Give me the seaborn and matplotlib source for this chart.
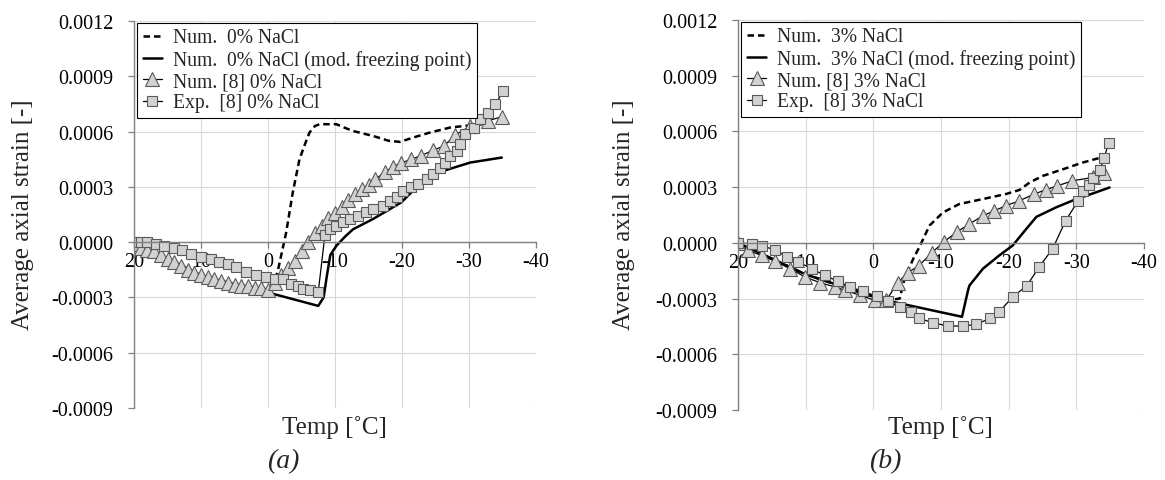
import matplotlib
matplotlib.use("Agg")
import matplotlib.pyplot as plt
import seaborn as sns
import pandas as pd
from matplotlib.ticker import FuncFormatter

# ---------------- data: panel (a) 0% NaCl ----------------
a_dash_T = [20, 15, 10, 5, 0, -0.8, -1.5, -2.7, -3.7, -4.7, -5.5, -6.2, -7.0, -7.7, -10.2, -11.5,
            -12.7, -15.7, -18.0, -19.7, -21.7, -24.2, -27.2, -30.2, -35.0]
a_dash_s = [0.0, -0.00009, -0.00018, -0.00023, -0.00026, -0.00024, -0.00015, 0.00005, 0.00027,
            0.00045, 0.00053, 0.000595, 0.00063, 0.00064, 0.00064, 0.00062, 0.000603, 0.000576,
            0.00055, 0.000544, 0.000568, 0.000595, 0.000622, 0.000634, 0.00065]

a_solid_T = [20, 15, 10, 5, 0, -0.7, -7.5, -8.3, -8.8, -9.3, -10.2, -11.5, -12.7, -15.7, -19.9,
             -21.4, -25.4, -30.2, -34.9]
a_solid_s = [0.0, -0.00009, -0.00018, -0.00023, -0.00026, -0.00028, -0.000346, -0.00030, -0.00018,
             -0.00007, -0.00002, 0.00003, 0.00007, 0.000126, 0.000216, 0.00027, 0.000378, 0.000432,
             0.000459]

a_tri_T = [20, 19, 18, 17, 16, 15, 14, 13, 12, 11, 10, 9, 8, 7, 6, 5, 4, 3, 2, 1, 0,
           -1, -2, -3, -4, -5, -6, -7, -8, -9, -10, -11, -12, -13, -14, -15, -16,
           -17.4, -18.7, -19.9, -21.4, -22.9, -24.7, -26.2, -27.9, -30.2, -32.9, -34.9]
a_tri_s = [-0.00001, -0.00003, -0.00004, -0.00005, -0.00007, -0.00009, -0.00011, -0.00013,
           -0.00015, -0.00017, -0.00018, -0.00019, -0.00020, -0.00021, -0.00022, -0.00023,
           -0.00024, -0.00024, -0.00025, -0.00025, -0.00026,
           -0.00022, -0.00018, -0.00014, -0.00010, -0.00005, 0.00000, 0.00005, 0.00009, 0.00013,
           0.00016, 0.00019, 0.00023, 0.00026, 0.00029, 0.00031, 0.00034,
           0.00038, 0.00041, 0.00043, 0.00045, 0.00047, 0.00050, 0.00052, 0.00058, 0.00063,
           0.00066, 0.00068]

a_sq_T = [20, 19, 18, 16.7, 15.5, 14, 12.8, 11.5, 10, 8.5, 7.3, 6, 4.8, 3.3, 1.8, 0.3, -1, -2.2,
          -3.5, -4.5, -5.2, -6.2, -7.5, -8.5, -9.2, -10.2, -11.2, -12.2, -13.4, -14.7, -15.7,
          -17.2, -18.2, -19.2, -20.2, -21.4, -22.4, -23.7, -24.7, -25.7, -26.4, -27.2, -28.2,
          -28.7, -29.4, -30.7, -31.7, -32.9, -33.9, -35.1]
a_sq_s = [0.0, 0.0, 0.0, -0.00001, -0.00002, -0.00003, -0.000045, -0.000063, -0.00008, -0.00009,
          -0.000108, -0.000117, -0.000135, -0.000162, -0.00018, -0.00019, -0.000198, -0.000198,
          -0.000225, -0.000238, -0.000252, -0.000262, -0.00027, 0.00004, 0.000072, 0.00009,
          0.000108, 0.000126, 0.000144, 0.000162, 0.00018, 0.000198, 0.000225, 0.000243,
          0.000279, 0.000297, 0.000315, 0.000342, 0.000369, 0.000405, 0.000432, 0.000468,
          0.000495, 0.000531, 0.000585, 0.000621, 0.000666, 0.000703, 0.000747, 0.000819]

# ---------------- data: panel (b) 3% NaCl ----------------
b_dash_T = [20, 10, 0, -1.9, -3.9, -4.6, -5.9, -6.8, -8.3, -10.3, -12.7, -16.2, -19.6, -21.6,
            -23.1, -25.0, -28.0, -30.9, -33.9, -34.9]
b_dash_s = [0.0, -0.00017, -0.00029, -0.00031, -0.00030, -0.000193, -0.000086, -0.000023,
            0.000093, 0.000164, 0.000209, 0.000236, 0.000263, 0.000285, 0.000325, 0.00036,
            0.000396, 0.000432, 0.000462, 0.00048]

b_solid_T = [20, 10, 0, -1.9, -13.1, -14.0, -14.2, -16.2, -18.6, -20.6, -22.6, -24.1, -27.0,
             -29.4, -32.2, -34.9]
b_solid_s = [0.0, -0.00017, -0.00029, -0.00031, -0.000398, -0.000255, -0.00023, -0.000139,
             -0.000068, -0.000014, 0.000075, 0.00014, 0.000191, 0.000227, 0.000263, 0.000298]

b_tri_T = [20, 18.5, 16.5, 14.5, 12.3, 10.1, 7.9, 5.7, 4.2, 2.0, -0.2, -1.9, -3.6, -5.1, -6.7,
           -8.6, -10.4, -12.3, -14.2, -16.2, -17.9, -19.6, -21.6, -23.8, -25.5, -27.2, -29.4,
           -32.4, -34.1]
b_tri_s = [0.0, -0.000041, -0.000068, -0.0001, -0.000139, -0.000184, -0.000214, -0.000237,
           -0.000255, -0.000282, -0.000309, -0.000309, -0.000215, -0.00016, -0.000124,
           -0.000055, 0.000005, 0.000057, 0.000102, 0.000146, 0.000173, 0.0002, 0.000227,
           0.000263, 0.000286, 0.000307, 0.000334, 0.000352, 0.000375]

b_sq_T = [20, 18, 16.5, 14.5, 12.8, 11.1, 9.1, 7.2, 5.2, 3.5, 1.5, -0.5, -2.2, -3.9, -5.6, -6.8,
          -8.8, -11.0, -13.2, -15.2, -17.2, -18.6, -20.6, -22.7, -24.5, -26.5, -28.4, -30.3,
          -31.0, -31.9, -32.5, -33.5, -34.1, -34.8]
b_sq_s = [0.0, -0.000005, -0.000018, -0.000036, -0.000077, -0.000103, -0.000139, -0.000175,
          -0.000207, -0.000237, -0.000261, -0.000288, -0.000314, -0.000348, -0.000371, -0.000407,
          -0.00043, -0.000448, -0.000448, -0.000439, -0.000407, -0.000371, -0.000291, -0.00023,
          -0.00013, -0.000032, 0.000119, 0.000227, 0.00028, 0.000312, 0.000347, 0.000393,
          0.000459, 0.000539]

x_ticks = [20, 10, 0, -10, -20, -30, -40]
y_ticks = [-0.0009, -0.0006, -0.0003, 0.0, 0.0003, 0.0006, 0.0009, 0.0012]

labels_a = ["Num.  0% NaCl", "Num.  0% NaCl (mod. freezing point)",
            "Num. [8] 0% NaCl", "Exp.  [8] 0% NaCl"]
labels_b = ["Num.  3% NaCl", "Num.  3% NaCl (mod. freezing point)",
            "Num. [8] 3% NaCl", "Exp.  [8] 3% NaCl"]

# ---------------- styling ----------------
sns.set_theme(style="whitegrid")
plt.rcParams['font.family'] = ['Liberation Serif', 'DejaVu Serif']
plt.rcParams['axes.unicode_minus'] = False

W, H = 1165, 481
fig = plt.figure(figsize=(W / 100, H / 100), dpi=100)
ax1 = fig.add_axes([134 / W, 1 - 409 / H, 402 / W, 387 / H])
ax2 = fig.add_axes([738 / W, 1 - 411 / H, 406 / W, 390 / H])

MFC = '#d2d2d2'
MEC = '#5a5a5a'


def draw(ax, dT, ds, sT, ss, tT, ts, qT, qs, labels):
    sns.lineplot(x=dT, y=ds, ax=ax, sort=False, estimator=None, color='black',
                 linewidth=1.8, linestyle=(0, (2.6, 1.6)), label=labels[0])
    sns.lineplot(x=sT, y=ss, ax=ax, sort=False, estimator=None, color='black',
                 linewidth=1.8, label=labels[1])
    sns.lineplot(x=tT, y=ts, ax=ax, sort=False, estimator=None, color='black',
                 linewidth=0.9, marker='^', markersize=9.5, markerfacecolor=MFC,
                 markeredgecolor=MEC, markeredgewidth=0.8, label=labels[2])
    sns.lineplot(x=qT, y=qs, ax=ax, sort=False, estimator=None, color='black',
                 linewidth=0.9, marker='s', markersize=7.5, markerfacecolor=MFC,
                 markeredgecolor=MEC, markeredgewidth=0.8, label=labels[3])

    ax.set_xlim(20, -40)
    ax.set_ylim(-0.0009, 0.0012)
    ax.set_xticks(x_ticks)
    ax.set_yticks(y_ticks)
    ax.xaxis.set_major_formatter(FuncFormatter(lambda v, p: f"{v:.0f}"))
    ax.yaxis.set_major_formatter(FuncFormatter(lambda v, p: f"{v:.4f}"))
    ax.set_xlabel("")
    ax.set_ylabel("")
    ax.set_facecolor('white')
    ax.grid(True, color='#d9d9d9', linewidth=0.8)
    ax.spines['top'].set_visible(False)
    ax.spines['right'].set_visible(False)
    ax.spines['bottom'].set_position(('data', 0))
    for sp in ('left', 'bottom'):
        ax.spines[sp].set_color('#808080')
        ax.spines[sp].set_linewidth(1.0)
    ax.tick_params(axis='both', which='major', direction='out', length=4, width=0.9,
                   color='#808080', labelsize=14.5, labelcolor='black', bottom=True, left=True)
    ax.tick_params(axis='x', pad=3)
    ax.tick_params(axis='y', pad=11)

    leg = ax.legend(loc='upper left', bbox_to_anchor=(0.007, 0.996), fontsize=14.1,
                    handlelength=1.0, handletextpad=0.55, labelspacing=0.12, borderpad=0.3,
                    borderaxespad=0.0, frameon=True, fancybox=False, framealpha=1,
                    edgecolor='black')
    leg.get_frame().set_linewidth(0.8)


draw(ax1, a_dash_T, a_dash_s, a_solid_T, a_solid_s, a_tri_T, a_tri_s, a_sq_T, a_sq_s, labels_a)
draw(ax2, b_dash_T, b_dash_s, b_solid_T, b_solid_s, b_tri_T, b_tri_s, b_sq_T, b_sq_s, labels_b)

fig.text(23 / W, 1 - 215 / H, "Average axial strain [-]", rotation=90, ha='center',
         va='center', fontsize=18)
fig.text(624 / W, 1 - 215 / H, "Average axial strain [-]", rotation=90, ha='center',
         va='center', fontsize=18)
fig.text(334 / W, 1 - 428 / H, "Temp [\u02daC]", ha='center', va='center', fontsize=18)
fig.text(940 / W, 1 - 428 / H, "Temp [\u02daC]", ha='center', va='center', fontsize=18)
fig.text(283 / W, 1 - 462 / H, "(a)", ha='center', va='center', fontsize=20, style='italic')
fig.text(885 / W, 1 - 462 / H, "(b)", ha='center', va='center', fontsize=20, style='italic')

fig.savefig("out.png", dpi=100, facecolor='white')
